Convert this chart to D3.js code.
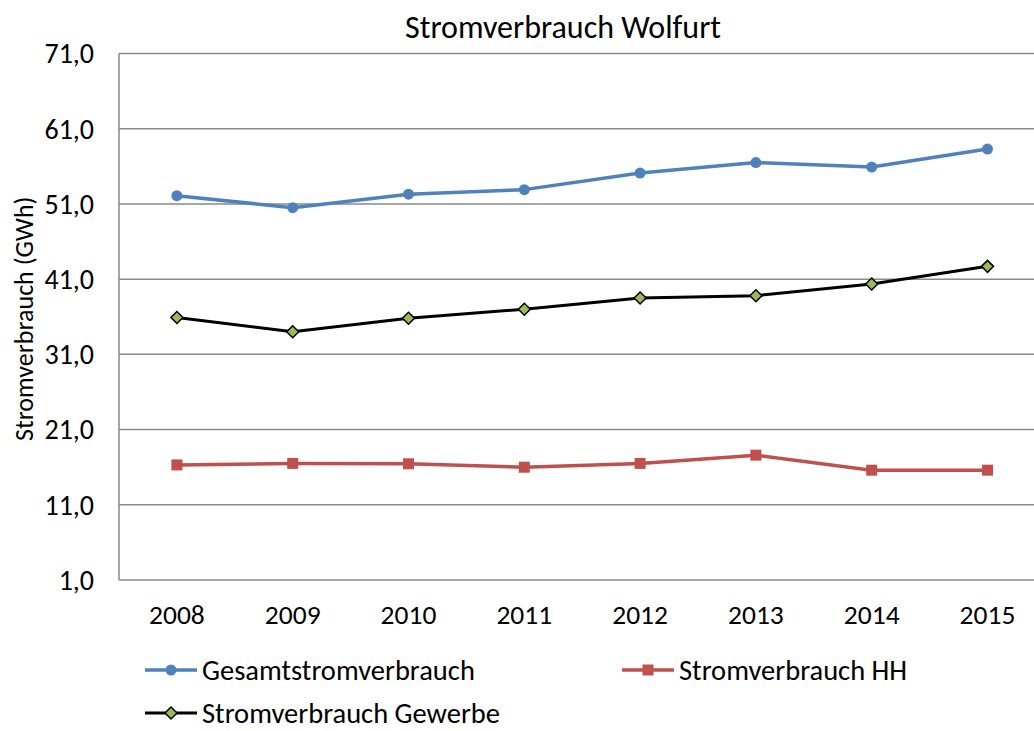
<!DOCTYPE html>
<html>
<head>
<meta charset="utf-8">
<script src="https://cdn.jsdelivr.net/npm/d3@7"></script>
<style>
	body { margin: 0; background: #fff; }
	svg { display: block; font-family: Carlito, Lato, "Open Sans", sans-serif; }
</style>
</head>
<body>
<svg id="chart" width="1034" height="731"></svg>
<script>
let years		= ['2008', '2009', '2010', '2011', '2012', '2013', '2014', '2015'];
let gesamt		= [52.1, 50.5, 52.3, 52.9, 55.1, 56.5, 55.9, 58.3];
let haushalt	= [16.3, 16.5, 16.45, 16.0, 16.5, 17.6, 15.6, 15.6];
let gewerbe		= [35.9, 34.0, 35.8, 37.0, 38.5, 38.8, 40.35, 42.7];
let yTicks		= [1, 11, 21, 31, 41, 51, 61, 71];
let seriesNames	= ['Gesamtstromverbrauch', 'Stromverbrauch HH', 'Stromverbrauch Gewerbe'];

let svg		= d3.select('#chart');
let plotL	= 119, plotT = 53.5, plotB = 580, plotR = 1045.4;

let x	= d3.scaleBand().domain(years).range([plotL, plotR]);
let y	= d3.scaleLinear().domain([1, 71]).range([plotB, plotT]);

let fmt	= (d) => d.toFixed(1).replace('.', ',');

// gridlines
svg.append('g').selectAll('line').data(yTicks.slice(1)).join('line')
	.attr('x1', plotL).attr('x2', plotR)
	.attr('y1', (d) => y(d)).attr('y2', (d) => y(d))
	.attr('stroke', '#898989').attr('stroke-width', 1.5);

// axes
svg.append('line').attr('x1', plotL).attr('x2', plotL).attr('y1', plotT).attr('y2', plotB).attr('stroke', '#898989').attr('stroke-width', 1.5);
svg.append('line').attr('x1', plotL).attr('x2', plotR).attr('y1', plotB).attr('y2', plotB).attr('stroke', '#898989').attr('stroke-width', 1.5);

svg.append('g').selectAll('text').data(yTicks).join('text')
	.attr('x', 94).attr('y', (d) => y(d)).attr('dy', '0.35em')
	.attr('text-anchor', 'end').style('font-size', '28px').text(fmt);

svg.append('g').selectAll('text').data(years).join('text')
	.attr('x', (d) => x(d) + x.bandwidth() / 2).attr('y', 614).attr('dy', '0.35em')
	.attr('text-anchor', 'middle').style('font-size', '27.5px').text((d) => d);

svg.append('text').attr('x', 563).attr('y', 27).attr('dy', '0.35em').attr('text-anchor', 'middle')
	.style('font-size', '32px').text('Stromverbrauch Wolfurt');

svg.append('text').attr('transform', 'translate(24,' + ((plotT + plotB) / 2 + 2) + ') rotate(-90)')
	.attr('dy', '0.35em').attr('text-anchor', 'middle').style('font-size', '26px').text('Stromverbrauch (GWh)');

let cx		= (d, i) => x(years[i]) + x.bandwidth() / 2;
let line	= d3.line().x(cx).y((d) => y(d));

function drawMarker(g, type, px, py) {
	if (type == 'circle') {
		g.append('circle').attr('cx', px).attr('cy', py).attr('r', 5.5).attr('fill', '#4F81BD');
	} else if (type == 'square') {
		g.append('rect').attr('x', px - 5.5).attr('y', py - 5.5).attr('width', 11).attr('height', 11).attr('fill', '#C0504D');
	} else {
		g.append('path').attr('d', 'M' + px + ',' + (py - 6) + 'L' + (px + 6) + ',' + py + 'L' + px + ',' + (py + 6) + 'L' + (px - 6) + ',' + py + 'Z')
			.attr('fill', '#9BBB59').attr('stroke', '#000').attr('stroke-width', 1.5);
	}
}

let series = [
	{ name: seriesNames[0], values: gesamt, color: '#4F81BD', width: 3.5, marker: 'circle' },
	{ name: seriesNames[1], values: haushalt, color: '#C0504D', width: 3.5, marker: 'square' },
	{ name: seriesNames[2], values: gewerbe, color: '#000000', width: 3, marker: 'diamond' }
];

series.forEach((s) => {
	let g = svg.append('g');
	g.append('path').attr('d', line(s.values)).attr('fill', 'none').attr('stroke', s.color).attr('stroke-width', s.width).attr('stroke-linejoin', 'round');
	s.values.forEach((v, i) => drawMarker(g, s.marker, cx(v, i), y(v)));
});

// legend
let legendPos = [[145, 670], [622, 670], [145, 713]];
series.forEach((s, i) => {
	let lx = legendPos[i][0], ly = legendPos[i][1];
	let g = svg.append('g');
	g.append('line').attr('x1', lx).attr('x2', lx + 52).attr('y1', ly).attr('y2', ly).attr('stroke', s.color).attr('stroke-width', s.width);
	drawMarker(g, s.marker, lx + 26, ly);
	g.append('text').attr('x', lx + 57).attr('y', ly).attr('dy', '0.35em').style('font-size', '28.5px').text(s.name);
});
</script>
</body>
</html>
